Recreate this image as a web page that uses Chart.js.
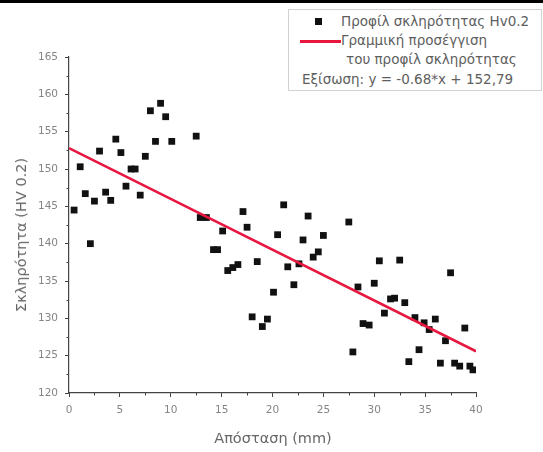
<!DOCTYPE html>
<html>
<head>
<meta charset="utf-8">
<script src="https://cdn.jsdelivr.net/npm/chart.js@4"></script>
<style>
  body{margin:0;background:#fff;}
  #wrap{position:relative;width:543px;height:452px;font-family:"DejaVu Sans",Verdana,sans-serif;}
  #topline{position:absolute;left:0;top:0;width:543px;height:3px;background:#000;}
  #legend{position:absolute;left:288px;top:9px;width:252px;height:80px;border:1px solid #d2d2d2;
    font-size:13.5px;color:#5e5e5e;background:#fff;}
  #legend div{position:absolute;white-space:nowrap;line-height:16px;}
  .sq{position:absolute;width:7px;height:7px;background:#111;}
  .ln{position:absolute;height:3px;background:#e8173f;}
  .ttl{position:absolute;white-space:nowrap;font-size:14.5px;color:#666;line-height:16px;}
</style>
</head>
<body>
<div id="wrap">
  <canvas id="c" width="543" height="452"></canvas>
  <div id="topline"></div>
  <div id="legend">
    <span class="sq" style="left:26px;top:8px"></span>
    <div style="left:52px;top:3px">Προφίλ σκληρότητας Hv0.2</div>
    <span class="ln" style="left:11px;top:30px;width:41px"></span>
    <div style="left:52px;top:22px">Γραμμική προσέγγιση</div>
    <div style="left:57px;top:41px">του προφίλ σκληρότητας</div>
    <div style="left:13px;top:61px">Εξίσωση: y = -0.68*x + 152,79</div>
  </div>
  <div class="ttl" id="xt" style="left:273px;top:430px;transform:translateX(-50%)">Απόσταση (mm)</div>
  <div class="ttl" id="yt" style="left:21px;top:235px;transform:translate(-50%,-50%) rotate(-90deg)">Σκληρότητα (HV 0.2)</div>
</div>
<script>
/* DATA */

const distance = [
  0.5, 1.1, 1.6, 2.1, 2.5, 3.0, 3.6, 4.1, 4.6, 5.1,
  5.6, 6.1, 6.5, 7.0, 7.5, 8.0, 8.5, 9.0, 9.5, 10.1,
  12.5, 12.9, 13.5, 14.2, 14.6, 15.1, 15.6, 16.1, 16.6, 17.1,
  17.5, 18.0, 18.5, 19.0, 19.5, 20.1, 20.5, 21.1, 21.5, 22.1,
  22.6, 23.0, 23.5, 24.0, 24.5, 25.0, 27.5, 27.9, 28.4, 28.9,
  29.5, 30.0, 30.5, 31.0, 31.6, 32.0, 32.5, 33.0, 33.4, 34.0,
  34.4, 34.9, 35.4, 36.0, 36.5, 37.0, 37.5, 37.9, 38.4, 38.9,
  39.4, 39.7
];

const hardness = [
  144.5, 150.3, 146.7, 140.0, 145.7, 152.4, 146.9, 145.8, 154.0, 152.2,
  147.7, 150.0, 150.0, 146.5, 151.7, 157.8, 153.7, 158.8, 157.0, 153.7,
  154.4, 143.5, 143.5, 139.2, 139.2, 141.7, 136.4, 136.8, 137.2, 144.3,
  142.2, 130.2, 137.6, 128.9, 129.9, 133.5, 141.2, 145.2, 136.9, 134.5,
  137.3, 140.5, 143.7, 138.2, 138.9, 141.1, 142.9, 125.5, 134.2, 129.3,
  129.1, 134.7, 137.7, 130.7, 132.6, 132.7, 137.8, 132.1, 124.2, 130.1,
  125.8, 129.4, 128.5, 129.9, 124.0, 127.0, 136.1, 124.0, 123.6, 128.7,
  123.6, 123.1
];

const fitSlope = -0.68;
const fitIntercept = 152.79;
const fitRange = [0, 40];

const xTicks = [0, 5, 10, 15, 20, 25, 30, 35, 40];
const yTicks = [120, 125, 130, 135, 140, 145, 150, 155, 160, 165];

/* CHART */

const points = distance.map((x, i) => ({x: x, y: hardness[i]}));
const fitLine = fitRange.map(x => ({x: x, y: fitSlope * x + fitIntercept}));

const tickFont = {family: "DejaVu Sans", size: 10.5};
const tickColor = "#858585";
const axisColor = "#444";

// small ticks halfway between the labelled ones
const minorTicks = {
  id: "minorTicks",
  afterDraw(chart){
    const c = chart.ctx;
    const xs = chart.scales.x;
    const ys = chart.scales.y;
    c.save();
    c.strokeStyle = axisColor;
    c.lineWidth = 1;
    c.beginPath();
    for(let v = xTicks[0] + 2.5; v < xTicks[xTicks.length-1]; v += 5){
      const px = Math.round(xs.getPixelForValue(v)) + 0.5;
      c.moveTo(px, ys.bottom);
      c.lineTo(px, ys.bottom + 2.5);
    }
    for(let v = yTicks[0] + 2.5; v < yTicks[yTicks.length-1]; v += 5){
      const py = Math.round(ys.getPixelForValue(v)) + 0.5;
      c.moveTo(xs.left, py);
      c.lineTo(xs.left - 2.5, py);
    }
    c.stroke();
    c.restore();
  }
};

new Chart(document.getElementById("c"), {
  type: "scatter",
  data: {
    datasets: [
      {
        label: "Προφίλ σκληρότητας Hv0.2",
        data: points,
        pointStyle: "rect",
        pointRadius: 4.8,
        pointHoverRadius: 4.8,
        backgroundColor: "#111",
        borderColor: "#111",
        borderWidth: 0,
        order: 2
      },
      {
        type: "line",
        label: "Γραμμική προσέγγιση",
        data: fitLine,
        borderColor: "#e8173f",
        borderWidth: 2.5,
        pointRadius: 0,
        fill: false,
        order: 1
      }
    ]
  },
  options: {
    responsive: false,
    animation: false,
    events: [],
    layout: {padding: {left: 0, top: 57, right: 67, bottom: 0}},
    plugins: {legend: {display: false}, tooltip: {enabled: false}},
    scales: {
      x: {
        type: "linear",
        min: 0,
        max: 40,
        afterBuildTicks: s => { s.ticks = xTicks.map(v => ({value: v})); },
        afterFit: s => { s.height = 59; },
        ticks: {font: tickFont, color: tickColor, padding: 7, maxRotation: 0},
        grid: {drawOnChartArea: false, tickLength: 4, color: axisColor},
        border: {color: axisColor, width: 1.2}
      },
      y: {
        min: 120,
        max: 165,
        afterBuildTicks: s => { s.ticks = yTicks.map(v => ({value: v})); },
        afterFit: s => { s.width = 69; },
        ticks: {font: tickFont, color: tickColor, padding: 7},
        grid: {drawOnChartArea: false, tickLength: 4, color: axisColor},
        border: {color: axisColor, width: 1.2}
      }
    }
  },
  plugins: [minorTicks]
});
</script>
</body>
</html>
